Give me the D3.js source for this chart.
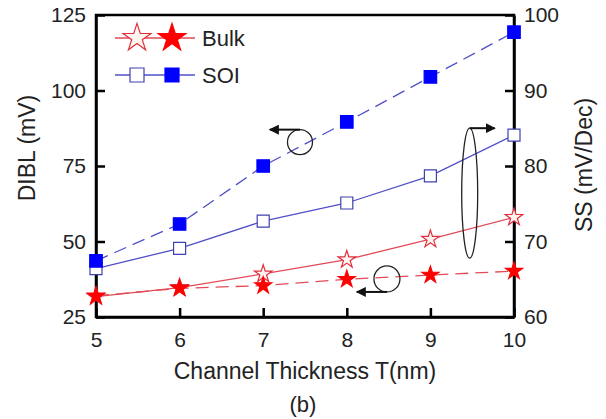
<!DOCTYPE html>
<html>
<head>
<meta charset="utf-8">
<script src="https://cdn.jsdelivr.net/npm/d3@7"></script>
<style>
  body { margin: 0; background: #fff; }
  svg { display: block; font-family: "Liberation Sans", Arial, sans-serif; }
</style>
</head>
<body>
<div class="chart"></div>
<script>
//Data
var thickness = [5, 6, 7, 8, 9, 10];
var soiDIBL = [43.6, 55.8, 75.0, 89.6, 104.5, 119.3];   //filled squares, dashed, left axis
var soiSS = [66.4, 69.1, 72.7, 75.1, 78.7, 84.1];       //open squares, solid, right axis
var bulkDIBL = [32.0, 34.5, 35.4, 37.5, 38.9, 40.2];    //filled stars, dashed, left axis
var bulkSS = [62.7, 63.9, 65.7, 67.6, 70.3, 73.2];      //open stars, solid, right axis
var leftTicks = [25, 50, 75, 100, 125];
var rightTicks = [60, 70, 80, 90, 100];

var w = 606;
var h = 419;

var svg = d3.select(".chart")
            .append("svg")
            .attr("width", w)
            .attr("height", h);

var x = d3.scaleLinear().domain([5, 10]).range([96, 514]);
var yL = d3.scaleLinear().domain([25, 125]).range([317, 15]);
var yR = d3.scaleLinear().domain([60, 100]).range([317, 15]);

//Frame
svg.append("rect")
    .attr("x", x(5))
    .attr("y", yL(125))
    .attr("width", x(10) - x(5))
    .attr("height", yL(25) - yL(125))
    .attr("fill", "none")
    .attr("stroke", "#000")
    .attr("stroke-width", 2.5);

//Axes, ticks point inward
var fontSize = "21px";
var leftAxis = d3.axisLeft(yL).tickValues(leftTicks).tickSizeInner(-9).tickSizeOuter(0).tickPadding(10);
var rightAxis = d3.axisRight(yR).tickValues(rightTicks).tickSizeInner(-9).tickSizeOuter(0).tickPadding(10);
var bottomAxis = d3.axisBottom(x).tickValues(thickness).tickFormat(d3.format("d"))
                   .tickSizeInner(-9).tickSizeOuter(0).tickPadding(15);

function styleAxis(g){
  g.select(".domain").attr("stroke-width", 2.5);
  g.selectAll(".tick line").attr("stroke-width", 2.5);
  g.selectAll(".tick text").attr("font-size", fontSize).attr("fill", "#222").style("font-family", "Liberation Sans, Arial, sans-serif");
}

svg.append("g").attr("transform", "translate(" + x(5) + ",0)").call(leftAxis).call(styleAxis);
svg.append("g").attr("transform", "translate(" + x(10) + ",0)").call(rightAxis).call(styleAxis);
svg.append("g").attr("transform", "translate(0," + yL(25) + ")").call(bottomAxis).call(styleAxis);

//Axis titles
svg.append("text")
    .attr("transform", "translate(35,148) rotate(-90)")
    .attr("text-anchor", "middle")
    .attr("font-size", "23px")
    .attr("fill", "#222")
    .text("DIBL (mV)");

svg.append("text")
    .attr("transform", "translate(592,165) rotate(-90)")
    .attr("text-anchor", "middle")
    .attr("font-size", "23px")
    .attr("fill", "#222")
    .text("SS (mV/Dec)");

svg.append("text")
    .attr("x", 305)
    .attr("y", 379)
    .attr("text-anchor", "middle")
    .attr("font-size", "23px")
    .attr("fill", "#222")
    .text("Channel Thickness T(nm)");

svg.append("text")
    .attr("x", 303)
    .attr("y", 412)
    .attr("text-anchor", "middle")
    .attr("font-size", "22px")
    .attr("fill", "#222")
    .text("(b)");

//Series
var blueLine = "#5050c8";
var redLine = "#e24a58";
var series = [
  {values: soiSS, y: yR, color: blueLine, dash: null, symbol: d3.symbolSquare, size: 144, fill: "#fff", stroke: "#4040b0"},
  {values: bulkSS, y: yR, color: redLine, dash: null, symbol: d3.symbolStar, size: 95, fill: "#fff6f0", stroke: "#e03040"},
  {values: soiDIBL, y: yL, color: blueLine, dash: "13,7", symbol: d3.symbolSquare, size: 156, fill: "#0000ff", stroke: "#0000ff"},
  {values: bulkDIBL, y: yL, color: redLine, dash: "13,7", symbol: d3.symbolStar, size: 90, fill: "#ff0000", stroke: "#ff0000"}
];

series.forEach(function(s){
  var line = d3.line()
               .x(function(d, i){ return x(thickness[i]); })
               .y(function(d){ return s.y(d); });
  svg.append("path")
      .datum(s.values)
      .attr("d", line)
      .attr("fill", "none")
      .attr("stroke", s.color)
      .attr("stroke-width", 1.3)
      .attr("stroke-dasharray", s.dash);
});

series.forEach(function(s){
  svg.selectAll(null)
      .data(s.values)
      .enter()
      .append("path")
      .attr("d", d3.symbol().type(s.symbol).size(s.size))
      .attr("transform", function(d, i){
        return "translate(" + x(thickness[i]) + "," + s.y(d) + ")";
      })
      .attr("fill", s.fill)
      .attr("stroke", s.stroke)
      .attr("stroke-width", 1.2);
});

//Annotations: circles/ellipse around the curves with arrows to their axis
svg.append("defs").append("marker")
    .attr("id", "arrow")
    .attr("viewBox", "0 0 10 10")
    .attr("refX", 9)
    .attr("refY", 5)
    .attr("markerWidth", 5)
    .attr("markerHeight", 5)
    .attr("orient", "auto")
    .append("path")
    .attr("d", "M0,0L10,5L0,10z")
    .attr("fill", "#111");

var circles = [
  {t: 7.44, v: 82.9, axis: yL, rx: 12.5, ry: 12.5, side: "top", to: 7.08},
  {t: 9.47, v: 76.4, axis: yR, rx: 8, ry: 65, side: "top", to: 9.77},
  {t: 8.48, v: 37.6, axis: yL, rx: 13, ry: 13, side: "bottom", to: 8.12}
];

circles.forEach(function(c){
  var cx = x(c.t);
  var cy = c.axis(c.v);
  svg.append("ellipse")
      .attr("cx", cx)
      .attr("cy", cy)
      .attr("rx", c.rx)
      .attr("ry", c.ry)
      .attr("fill", "none")
      .attr("stroke", "#222")
      .attr("stroke-width", 1.3);
  var ay = c.side == "top" ? cy - c.ry : cy + c.ry;
  svg.append("line")
      .attr("x1", cx)
      .attr("y1", ay)
      .attr("x2", x(c.to))
      .attr("y2", ay)
      .attr("stroke", "#111")
      .attr("stroke-width", 2)
      .attr("marker-end", "url(#arrow)");
});

//Legend
var legend = [
  {label: "Bulk", y: 38, color: redLine, symbol: d3.symbolStar, open: series[1], filled: series[3]},
  {label: "SOI", y: 75, color: blueLine, symbol: d3.symbolSquare, open: series[0], filled: series[2]}
];

legend.forEach(function(l){
  svg.append("line")
      .attr("x1", 115)
      .attr("x2", 195)
      .attr("y1", l.y)
      .attr("y2", l.y)
      .attr("stroke", l.color)
      .attr("stroke-width", 1.3);
  [[l.open, 137], [l.filled, 172]].forEach(function(p){
    var s = p[0];
    svg.append("path")
        .attr("d", d3.symbol().type(s.symbol).size(s.symbol == d3.symbolStar ? 240 : 196))
        .attr("transform", "translate(" + p[1] + "," + l.y + ")")
        .attr("fill", s.fill)
        .attr("stroke", s.stroke)
        .attr("stroke-width", 1.2);
  });
  svg.append("text")
      .attr("x", 202)
      .attr("y", l.y + 8)
      .attr("font-size", "22px")
      .attr("fill", "#222")
      .text(l.label);
});
</script>
</body>
</html>
